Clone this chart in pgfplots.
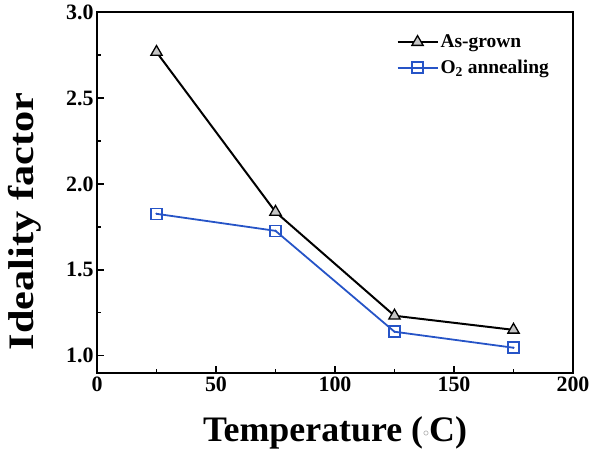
\documentclass[border=0pt]{standalone}
\usepackage{fontspec}
\setmainfont{Liberation Serif}
\usepackage{pgfplots}
\pgfplotsset{compat=1.18}
\definecolor{myblue}{rgb}{0.15,0.33,0.78}
\pgfplotsset{longlegend/.style={legend image code/.code={\draw[mark repeat=2,mark phase=2,##1] plot coordinates {(0bp,0bp) (20bp,0bp) (40bp,0bp)};}}}
\begin{document}
\begin{tikzpicture}[x=1bp,y=1bp]
\path[use as bounding box] (-97bp,-85bp) rectangle (497bp,373bp);
\begin{axis}[
  scale only axis,
  width=476bp, height=361bp,
  xmin=0, xmax=200, ymin=0.9, ymax=3.0,
  xtick={0,50,100,150,200},
  ytick={1.0,1.5,2.0,2.5,3.0},
  minor xtick={25,75,125,175},
  minor ytick={1.25,1.75,2.25,2.75},
  tick pos=left,
  tick align=inside,
  major tick length=7bp, minor tick length=4bp,
  every tick/.style={black, line width=1.3pt},
  axis line style={line width=1.4pt},
  /pgf/number format/assume math mode=true,
  yticklabel style={/pgf/number format/fixed, /pgf/number format/fixed zerofill, /pgf/number format/precision=1},
  ticklabel style={font=\fontsize{22}{25}\selectfont\bfseries},
  xlabel={Temperature (\raisebox{0.3ex}{\color{gray}\fontsize{13}{13}\selectfont$\circ$}C)},
  ylabel={\scalebox{1.18}[1]{Ideality factor}},
  label style={font=\fontsize{36}{40}\selectfont\bfseries},
  xlabel style={at={(axis description cs:0.5,-0.166)}, anchor=center},
  ylabel style={at={(axis description cs:-0.152,0.42)}, anchor=center},
  legend style={draw=none, fill=none, at={(0.96,0.948)}, anchor=north east, font=\fontsize{19.5}{23}\selectfont\bfseries, row sep=7bp, nodes={inner xsep=2bp}},
  legend cell align=left,
]
\addplot[black, line width=2pt, mark=triangle*, mark size=6.5bp, mark options={fill=gray!45, draw=black, line width=1.3pt}, longlegend]
  coordinates {(25,2.767) (75,1.837) (125,1.233) (175,1.151)};
\addlegendentry{As-grown}
\addplot[myblue, line width=1.8pt, mark=square, mark size=5.5bp, mark options={draw=myblue, line width=1.6pt}, longlegend]
  coordinates {(25,1.826) (75,1.727) (125,1.14) (175,1.047)};
\addlegendentry{O\textsubscript{2} annealing}
\addplot[only marks, myblue, mark=*, mark size=0.9bp, forget plot]
  coordinates {(25,1.826) (75,1.727) (125,1.14) (175,1.047)};
\end{axis}
\end{tikzpicture}
\end{document}
